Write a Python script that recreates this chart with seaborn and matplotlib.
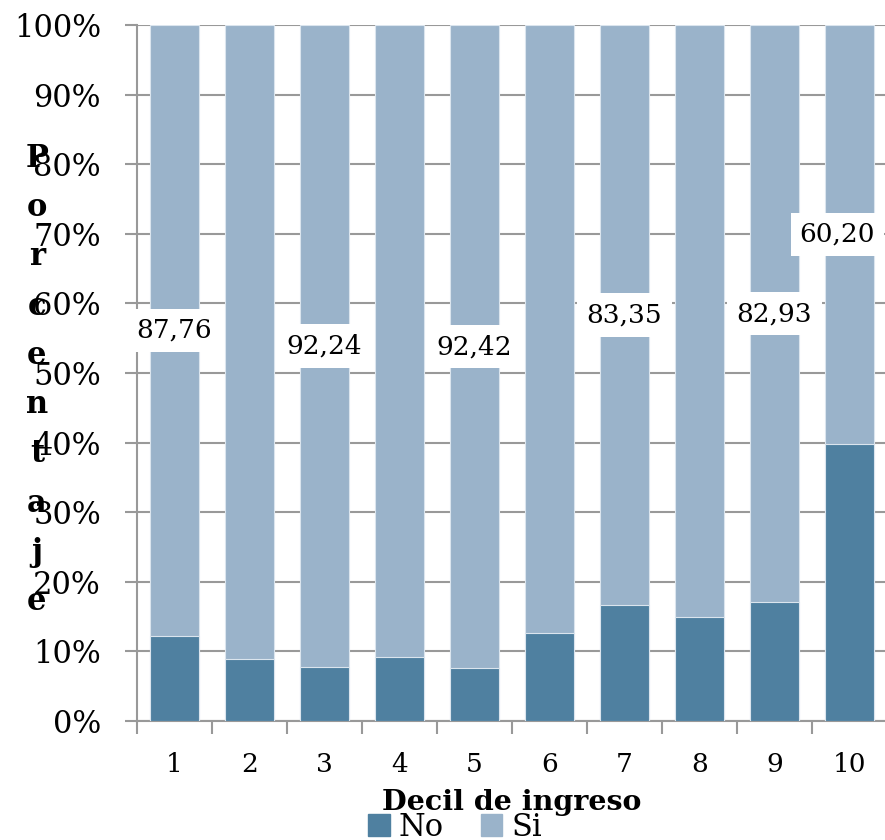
import matplotlib
matplotlib.use("Agg")
import matplotlib.pyplot as plt
import seaborn as sns
import pandas as pd
from matplotlib.patches import Patch
from matplotlib.ticker import FixedLocator, FuncFormatter

# Share of households by income decile
deciles = ["1", "2", "3", "4", "5", "6", "7", "8", "9", "10"]
no_vals = [12.24, 8.90, 7.76, 9.20, 7.58, 12.60, 16.65, 14.90, 17.07, 39.80]
si_vals = [87.76, 91.10, 92.24, 90.80, 92.42, 87.40, 83.35, 85.10, 82.93, 60.20]
labelled = ["1", "3", "5", "7", "9", "10"]

c_no = "#4F80A0"
c_si = "#9AB3CA"

sns.set_theme(style="white")
plt.rcParams["font.family"] = ["DejaVu Serif"]
plt.rcParams["text.color"] = "black"
plt.rcParams["xtick.color"] = "black"
plt.rcParams["ytick.color"] = "black"

df = pd.DataFrame({"decil": deciles, "No": no_vals, "Si": si_vals})
df["total"] = df["No"] + df["Si"]

fig = plt.figure(figsize=(8.85, 8.4), dpi=100)
ax = fig.add_axes([137 / 885, (840 - 721) / 840, 750 / 885, 696 / 840])

sns.barplot(data=df, x="decil", y="total", order=deciles, color=c_si,
            width=0.66, saturation=1, ax=ax, edgecolor="#dbe5ee", linewidth=0.8,
            zorder=3)
sns.barplot(data=df, x="decil", y="No", order=deciles, color=c_no,
            width=0.66, saturation=1, ax=ax, edgecolor="#dbe5ee", linewidth=0.8,
            zorder=3)

# Value labels centred in the "Si" segment (last one nudged to stay on the canvas)
for i, d in enumerate(deciles):
    if d in labelled:
        no, si = no_vals[i], si_vals[i]
        x = i - 0.16 if i == len(deciles) - 1 else i
        ax.text(x, no + si / 2, f"{si:.2f}".replace(".", ","),
                ha="center", va="center", fontsize=19, color="black", zorder=5,
                bbox=dict(boxstyle="square,pad=0.35", fc="white", ec="none"))

ax.set_ylim(0, 100)
ax.set_xlim(-0.5, 9.5)
ax.yaxis.set_major_locator(FixedLocator(range(0, 101, 10)))
ax.yaxis.set_major_formatter(FuncFormatter(lambda v, p: f"{int(v)}%"))
ax.yaxis.grid(True, color="#999999", linewidth=1.5, zorder=0)
ax.set_axisbelow(True)

# Category ticks sit between bars; labels sit under bar centres
ax.set_xticks([i - 0.5 for i in range(11)])
ax.set_xticklabels([])
ax.set_xticks(range(10), minor=True)
ax.set_xticklabels(deciles, minor=True)
ax.tick_params(axis="x", which="major", length=9, width=1.5, color="#999999",
               direction="out", bottom=True)
ax.tick_params(axis="x", which="minor", length=0, pad=22, labelsize=19,
               labelcolor="black")
ax.tick_params(axis="y", which="major", length=9, width=1.5, color="#999999",
               direction="out", left=True, pad=17, labelsize=22,
               labelcolor="black")

for s in ["top", "right"]:
    ax.spines[s].set_visible(False)
for s in ["left", "bottom"]:
    ax.spines[s].set_color("#999999")
    ax.spines[s].set_linewidth(1.5)

ax.set_xlabel("")
ax.set_ylabel("")

fig.text(37 / 885, 1 - 380 / 840, "\n".join("Porcentaje"), ha="center",
         va="center", fontsize=22, fontweight="bold", linespacing=1.76)
fig.text(512 / 885, 1 - 803 / 840, "Decil de ingreso", ha="center",
         va="center", fontsize=20.5, fontweight="bold")

handles = [Patch(color=c_no, label="No"), Patch(color=c_si, label="Si")]
fig.legend(handles=handles, loc="center", bbox_to_anchor=(455 / 885, 1 - 827 / 840),
           ncol=2, frameon=False, fontsize=22, handlelength=0.7, handleheight=0.7,
           handletextpad=0.3, columnspacing=1.2, borderpad=0)

fig.savefig("out.png", dpi=100)
